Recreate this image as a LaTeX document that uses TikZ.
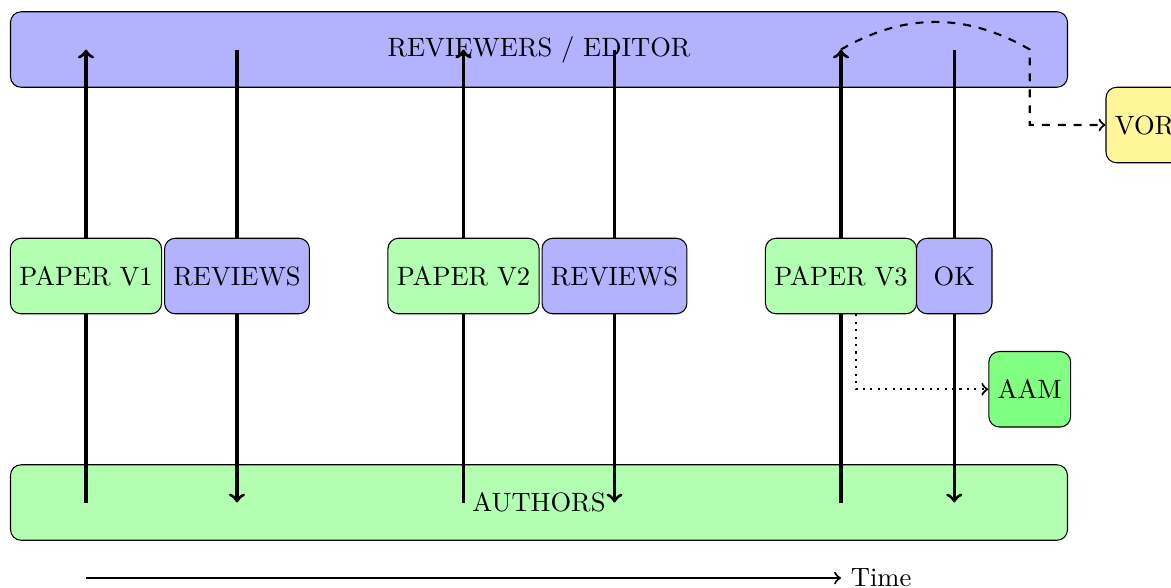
\documentclass[tikz,border=0pt]{standalone}
\usetikzlibrary{calc}
\definecolor{vorcol}{RGB}{255,246,153}
\begin{document}
\begin{tikzpicture}[
  band/.style={draw, rounded corners=4pt, minimum width=14cm, minimum height=1cm},
  stepnode/.style={draw, rounded corners=4pt, minimum height=1cm},
  paper/.style={stepnode, fill=green!30},
  rev/.style={stepnode, fill=blue!30},
  flow/.style={very thick, ->},
]
\useasboundingbox (-1.139,-0.132) rectangle (14.371,7.656);
% bands
\node[band, fill=blue!30] (top) at (6,7) {REVIEWERS / EDITOR};
\node[band, fill=green!30] (bot) at (6,1) {AUTHORS};
% anchor coordinates
\coordinate (b1) at (0,1);  \coordinate (t1) at (0,7);
\coordinate (b2) at (2,1);  \coordinate (t2) at (2,7);
\coordinate (b3) at (5,1);  \coordinate (t3) at (5,7);
\coordinate (b4) at (7,1);  \coordinate (t4) at (7,7);
\coordinate (b5) at (10,1); \coordinate (t5) at (10,7);
\coordinate (b6) at (11.5,1); \coordinate (t6) at (11.5,7);
% vertical arrows
\draw[flow] (b1) -- (t1);
\draw[flow] (t2) -- (b2);
\draw[flow] (b3) -- (t3);
\draw[flow] (t4) -- (b4);
\draw[flow] (b5) -- (t5);
\draw[flow] (t6) -- (b6);
% step nodes
\node[paper] (p1) at (0,4) {PAPER V1};
\node[rev] (r1) at (2,4) {REVIEWS};
\node[paper] (p2) at (5,4) {PAPER V2};
\node[rev] (r2) at (7,4) {REVIEWS};
\node[paper] (p3) at (10,4) {PAPER V3};
\node[rev, minimum width=1cm] (ok) at (11.5,4) {OK};
% outputs
\node[stepnode, fill=green!50] (aam) at (12.5,2.5) {AAM};
\node[stepnode, fill=vorcol] (vor) at (14.02,6) {VOR};
\coordinate (p3s) at ($(p3.south)+(0.2,0)$);
\draw[thick, dotted, ->] (p3s) |- (aam.west);
\coordinate (c1) at (12.5,7);
\draw[thick, dashed, ->] (t5) to[bend left] (c1) |- (vor.west);
% time axis
\coordinate (ts) at (0,0);
\coordinate (te) at (10,0);
\draw[thick, ->] (ts) -- (te) node[right] (time) {Time};
\end{tikzpicture}
\end{document}
